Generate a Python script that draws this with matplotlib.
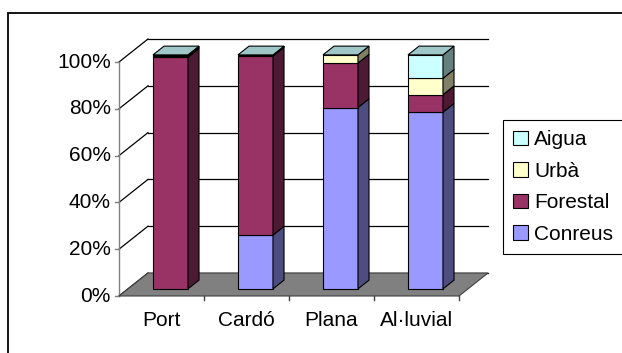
import matplotlib
matplotlib.use('Agg')
import matplotlib.pyplot as plt
from matplotlib.patches import Polygon, Patch, Rectangle
from matplotlib.colors import to_rgb

plt.rcParams['font.family'] = ['Liberation Sans', 'DejaVu Sans']

categories = ['Port', 'Cardó', 'Plana', 'Al·luvial']
conreus = [0.0, 23.0, 77.5, 75.5]
forestal = [99.0, 76.5, 19.0, 7.5]
urba = [0.6, 0.3, 3.5, 7.0]
aigua = [0.4, 0.2, 0.0, 10.0]
series_names = ['Conreus', 'Forestal', 'Urbà', 'Aigua']
series_values = [conreus, forestal, urba, aigua]
series_colors = ['#9999FF', '#993366', '#FFFFCC', '#CCFFFF']
yticks = [0, 20, 40, 60, 80, 100]

def shade(c, f):
    r, g, b = to_rgb(c)
    return (r * f, g * f, b * f)

# figure: 622x353 px, 1 x-unit = 85 px, 1% = 2.34 px
W, H = 622, 353
fig = plt.figure(figsize=(W / 100, H / 100), dpi=100)
ax = fig.add_axes([0, 0, 1, 1])
px, py = 85.0, 2.34
x0_px, y0_px = 119, 296
ax.set_xlim(-x0_px / px, (W - x0_px) / px)
ax.set_ylim(-(H - y0_px) / py, y0_px / py)
ax.axis('off')

# depth vector (front plane -> back wall)
DX, DY = 29 / px, 23 / py
n = len(categories)

# outer chart border
ax.add_patch(Rectangle((8 / W, -0.1), 1.2, (H - 13) / H + 0.1, transform=ax.transAxes,
                       fill=False, edgecolor='black', lw=1.3, zorder=0))

# walls: gridlines
for v in yticks:
    ax.plot([DX, n + DX], [v + DY, v + DY], color='black', lw=0.9, zorder=1)
    ax.plot([0, DX], [v, v + DY], color='black', lw=0.9, zorder=1)
    ax.plot([-4 / px, 0], [v, v], color='#808080', lw=1, zorder=1)
    ax.text(-8 / px, v, f'{v}%', ha='right', va='center', fontsize=15)
ax.plot([0, 0], [0, 100], color='#808080', lw=1, zorder=1)

# floor
ax.add_patch(Polygon([(0, 0), (n, 0), (n + DX, DY), (DX, DY)], closed=True,
                     facecolor='#808080', edgecolor='#404040', lw=0.8, zorder=2))
for i in range(1, n + 1):
    ax.plot([i, i], [0, -4 / py], color='#404040', lw=1, zorder=2)

# bars
bw = 35 / px
df, db = 0.31, 0.69
for i, cat in enumerate(categories):
    left = i + 0.5 - bw / 2 + df * DX
    base = df * DY
    ox, oy = (db - df) * DX, (db - df) * DY
    bottom = 0.0
    for vals, col in zip(series_values, series_colors):
        v = vals[i]
        if v <= 0:
            continue
        ax.bar(left, v, width=bw, bottom=bottom + base, align='edge', color=col,
               edgecolor='black', lw=0.8, zorder=3)
        b, t = bottom + base, bottom + v + base
        r = left + bw
        ax.add_patch(Polygon([(r, b), (r + ox, b + oy), (r + ox, t + oy), (r, t)], closed=True,
                             facecolor=shade(col, 0.5), edgecolor='black', lw=0.8, zorder=3))
        bottom += v
    t = bottom + base
    ax.add_patch(Polygon([(left, t), (left + bw, t), (left + bw + ox, t + oy), (left + ox, t + oy)],
                         closed=True, facecolor=shade(series_colors[-1], 0.78),
                         edgecolor='black', lw=0.8, zorder=4))
    ax.text(i + 0.5, -25 / py, cat, ha='center', va='center', fontsize=15)

handles = [Patch(facecolor=c, edgecolor='black', lw=0.8, label=nm)
           for nm, c in zip(series_names[::-1], series_colors[::-1])]
leg = fig.legend(handles=handles, loc='upper left', bbox_to_anchor=(503 / W, 1 - 120 / H),
                 fontsize=15, frameon=True, fancybox=False, framealpha=1,
                 edgecolor='black', handlelength=0.7, handleheight=0.7,
                 handletextpad=0.3, labelspacing=0.6, borderpad=0.5, borderaxespad=0)
leg.get_frame().set_linewidth(0.8)

fig.savefig('out.png', dpi=100)
